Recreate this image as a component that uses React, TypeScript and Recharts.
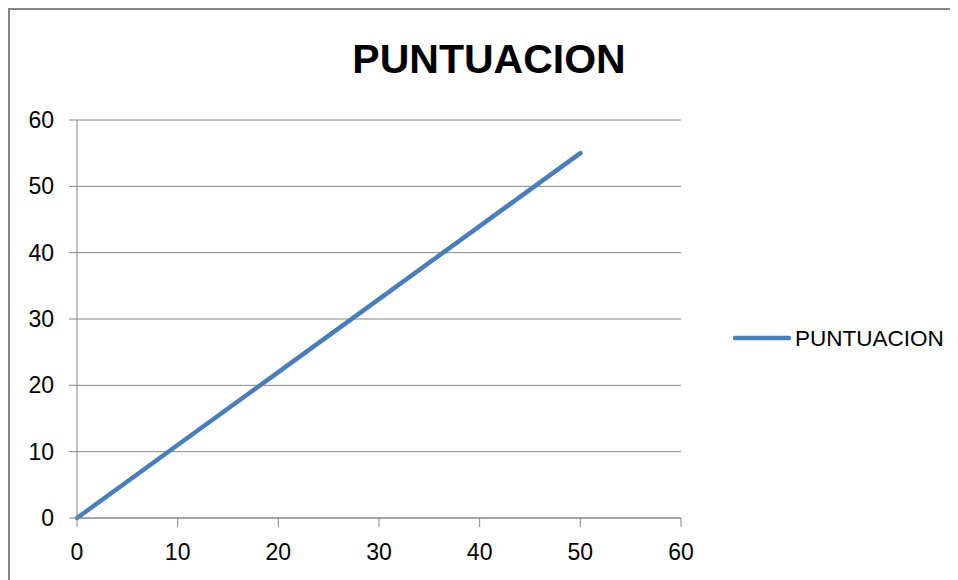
import React from "react";
import { LineChart, Line, XAxis, YAxis, CartesianGrid } from "recharts";

const seriesName = "PUNTUACION";
const chartTitle = "PUNTUACION";
const xValues = [0, 10, 20, 30, 40, 50];
const yValues = [0, 11, 22, 33, 44, 55];
const xTicks = [0, 10, 20, 30, 40, 50, 60];
const yTicks = [0, 10, 20, 30, 40, 50, 60];

const data = xValues.map((x, i) => ({ x, y: yValues[i] }));

const FONT = "'Liberation Sans', Arial, sans-serif";
const GRAY = "#868686";
const BLUE = "#4A7EBB";

export default function App() {
  return (
    <div
      style={{
        position: "relative",
        width: 950,
        height: 572,
        borderTop: `2px solid ${GRAY}`,
        borderLeft: `2px solid ${GRAY}`,
        boxSizing: "border-box",
        background: "#fff",
        fontFamily: FONT,
      }}
    >
      <div style={{ position: "absolute", left: 0, top: 0 }}>
        <LineChart
          width={948}
          height={570}
          data={data}
          margin={{ top: 110, right: 277, left: 7, bottom: 22 }}
        >
          <CartesianGrid vertical={false} stroke={GRAY} strokeWidth={1} />
          <XAxis
            type="number"
            dataKey="x"
            domain={[0, 60]}
            ticks={xTicks}
            interval={0}
            height={40}
            tickSize={9}
            tickMargin={17}
            axisLine={{ stroke: GRAY }}
            tickLine={{ stroke: GRAY }}
            tick={{ fill: "#000", fontSize: 23, fontFamily: FONT }}
          />
          <YAxis
            type="number"
            domain={[0, 60]}
            ticks={yTicks}
            interval={0}
            width={60}
            tickSize={8}
            tickMargin={15}
            axisLine={{ stroke: GRAY }}
            tickLine={{ stroke: GRAY }}
            tick={{ fill: "#000", fontSize: 23, fontFamily: FONT }}
          />
          <Line
            type="linear"
            dataKey="y"
            name={seriesName}
            stroke={BLUE}
            strokeWidth={4.5}
            strokeLinecap="round"
            dot={false}
            activeDot={false}
            isAnimationActive={false}
          />
        </LineChart>
      </div>
      <svg
        width={948}
        height={570}
        style={{ position: "absolute", left: 0, top: 0, pointerEvents: "none" }}
      >
        <text
          x={479}
          y={63}
          textAnchor="middle"
          fontFamily={FONT}
          fontWeight="bold"
          fontSize={41}
          fill="#000"
        >
          {chartTitle}
        </text>
        <line
          x1={725}
          y1={328}
          x2={779}
          y2={328}
          stroke={BLUE}
          strokeWidth={4.5}
          strokeLinecap="round"
        />
        <text x={785} y={336} fontFamily={FONT} fontSize={22.5} fill="#000">
          {seriesName}
        </text>
      </svg>
    </div>
  );
}
